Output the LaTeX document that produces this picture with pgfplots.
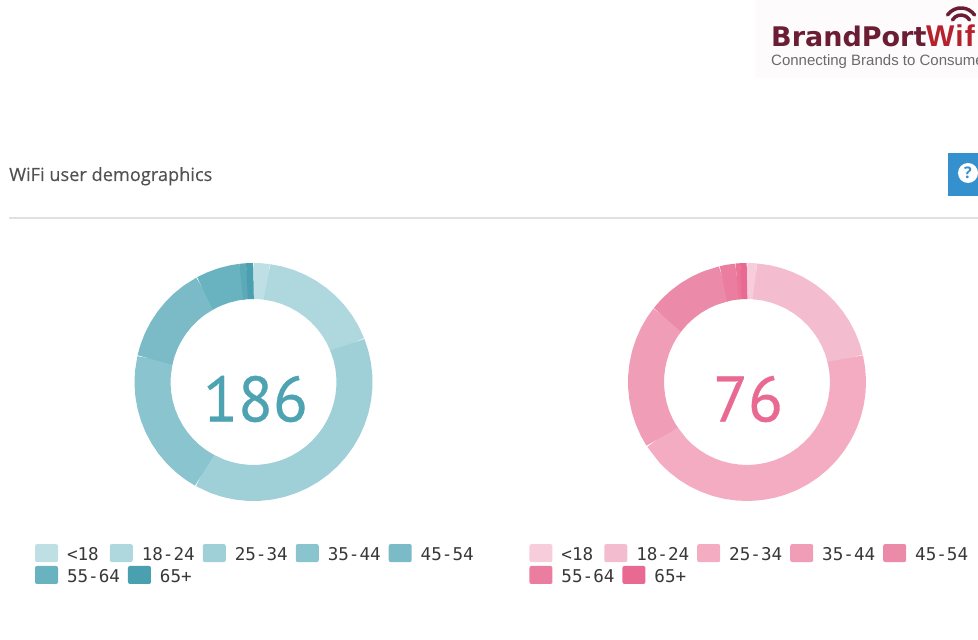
\documentclass[border=0pt]{standalone}
\usepackage{fontspec}
\setmainfont{Open Sans}
\newfontfamily\titlefont[FakeBold=0.25]{Open Sans}
\newfontfamily\legfont{DejaVu Sans Mono}
\newfontfamily\logofont{DejaVu Sans}
\newfontfamily\tagfont{Liberation Sans}
\newfontfamily\wififont[LetterSpace=4]{Liberation Sans}
\newfontfamily\numfont[FakeBold=0.5]{PT Sans}
\usepackage{pgfplots}
\pgfplotsset{compat=1.18}
\usepgfplotslibrary{polar}
\definecolor{tA}{RGB}{190,224,229}
\definecolor{tB}{RGB}{175,215,222}
\definecolor{tC}{RGB}{160,208,215}
\definecolor{tD}{RGB}{138,196,207}
\definecolor{tE}{RGB}{122,187,199}
\definecolor{tF}{RGB}{105,179,192}
\definecolor{tM}{RGB}{92,170,184}
\definecolor{tG}{RGB}{75,160,175}
\definecolor{pA}{RGB}{248,205,219}
\definecolor{pB}{RGB}{244,188,207}
\definecolor{pC}{RGB}{243,172,193}
\definecolor{pD}{RGB}{240,158,184}
\definecolor{pE}{RGB}{236,138,169}
\definecolor{pF}{RGB}{235,125,160}
\definecolor{pM}{RGB}{234,115,152}
\definecolor{pG}{RGB}{232,105,145}
\definecolor{numT}{RGB}{77,163,178}
\definecolor{numP}{RGB}{232,105,145}
\definecolor{maroon}{RGB}{107,29,51}
\definecolor{logored}{RGB}{181,34,45}
\definecolor{helpblue}{RGB}{52,145,205}
\pgfplotsset{
  donut/.style={
    scale only axis, width=238pt, height=238pt,
    anchor=center, hide axis, clip=false,
    xmin=0, xmax=360, ymin=0, ymax=119,
    every axis plot/.append style={line width=36pt, no markers, line join=round},
    legend cell align=left,
    legend image code/.code={
      \fill[##1,draw=none,line width=0pt,rounded corners=2pt] (0pt,-7pt) rectangle (23pt,11pt);
    },
    legend style={draw=none, fill=none, inner sep=0pt, outer sep=0pt, anchor=north west,
      text=black!78, font=\legfont\fontsize{17.6}{18}\selectfont, legend columns=-1,
      /tikz/every even column/.append style={column sep=8pt},
      /tikz/every odd column/.append style={column sep=9pt},
      nodes={inner sep=0pt, outer sep=0pt}},
  }}
\begin{document}
\begin{tikzpicture}[x=1pt,y=1pt]
\clip (0,0) rectangle (978,640);
% header bits
\fill[fill={rgb,255:red,254;green,251;blue,253}] (755,562) rectangle (978,640);
\node[anchor=base west,inner sep=0pt,text=maroon,font=\logofont\bfseries\fontsize{27}{27}\selectfont] at (771,593) {BrandPort};
\node[anchor=base west,inner sep=0pt,text=logored,font=\wififont\bfseries\fontsize{30}{30}\selectfont] at (926,593) {Wifi};
\node[anchor=base west,inner sep=0pt,text=black!58,font=\tagfont\fontsize{15}{15}\selectfont] at (771,574.5) {Connecting Brands to Consumers};
\draw[maroon,line width=3.5pt,line cap=round] (947.5,625) arc[start angle=145,end angle=35,radius=16.5];
\draw[maroon,line width=3.5pt,line cap=round] (952.5,620) arc[start angle=151,end angle=29,radius=9.7];
\node[anchor=base west,inner sep=0pt,text=black!68,font=\titlefont\fontsize{18.2}{18}\selectfont] at (9,459) {WiFi user demographics};
\fill[black!12] (9,420.5) rectangle (978,422.5);
\fill[helpblue] (948,444) rectangle (978,487);
\fill[white] (968,467) circle[radius=10];
\node[text=helpblue,inner sep=0pt,font=\bfseries\fontsize{16}{16}\selectfont] at (968,467) {?};

\begin{polaraxis}[donut, at={(253.5pt,258pt)},
    legend style={at={(-0.418,-0.181)}}]
  \addplot[tA] coordinates {(90,101) (86,101) (81.8,101)};
  \addlegendentry{<18\kern3pt}
  \addplot[tB] coordinates {(82.3,101) (76,101) (70,101) (64,101) (58,101) (52,101) (46,101) (40,101) (34,101) (28,101) (21.2,101)};
  \addlegendentry{18-24}
  \addplot[tC] coordinates {(21.7,101) (15,101) (9,101) (3,101) (-3,101) (-9,101) (-15,101) (-21,101) (-27,101) (-33,101) (-39,101) (-45,101) (-51,101) (-57,101) (-63,101) (-69,101) (-75,101) (-81,101) (-87,101) (-93,101) (-99,101) (-105,101) (-111,101) (-119.5,101)};
  \addlegendentry{25-34}
  \addplot[tD] coordinates {(-119,101) (-125,101) (-131,101) (-137,101) (-143,101) (-149,101) (-155,101) (-161,101) (-167,101) (-173,101) (-179,101) (-185,101) (-193.1,101)};
  \addlegendentry{35-44}
  \addplot[tE] coordinates {(-192.6,101) (-198,101) (-204,101) (-210,101) (-216,101) (-222,101) (-228,101) (-234,101) (-241.8,101)};
  \addlegendentry{45-54}
\end{polaraxis}
\begin{polaraxis}[donut, at={(253.5pt,258pt)},
    legend style={at={(-0.418,-0.273)}}]
  \addplot[tF] coordinates {(-241.3,101) (-247,101) (-253,101) (-259,101) (-263.5,101)};
  \addlegendentry{55-64}
  \addplot[tM, forget plot] coordinates {(-263,101) (-265,101) (-266.6,101)};
  \addplot[tG] coordinates {(-266.3,101) (-268,101) (-270,101)};
  \addlegendentry{65+}
  \node[text=numT,inner sep=0pt,font=\numfont\fontsize{64}{64}\selectfont] at (axis cs:90,0) [yshift=-17pt,xshift=2pt] {186};
\end{polaraxis}

\begin{polaraxis}[donut, at={(747pt,258pt)},
    legend style={at={(-0.414,-0.181)}}]
  \addplot[pA] coordinates {(90,101) (88,101) (85,101)};
  \addlegendentry{<18\kern3pt}
  \addplot[pB] coordinates {(85.5,101) (79,101) (73,101) (67,101) (61,101) (55,101) (49,101) (43,101) (37,101) (31,101) (25,101) (19,101) (12.9,101)};
  \addlegendentry{18-24}
  \addplot[pC] coordinates {(13.4,101) (7,101) (1,101) (-5,101) (-11,101) (-17,101) (-23,101) (-29,101) (-35,101) (-41,101) (-47,101) (-53,101) (-59,101) (-65,101) (-71,101) (-77,101) (-83,101) (-89,101) (-95,101) (-101,101) (-107,101) (-113,101) (-119,101) (-125,101) (-131,101) (-137,101) (-147.7,101)};
  \addlegendentry{25-34}
  \addplot[pD] coordinates {(-147.2,101) (-153,101) (-159,101) (-165,101) (-171,101) (-177,101) (-183,101) (-189,101) (-195,101) (-201,101) (-207,101) (-213,101) (-218.5,101)};
  \addlegendentry{35-44}
  \addplot[pE] coordinates {(-218,101) (-224,101) (-230,101) (-236,101) (-242,101) (-248,101) (-257,101)};
  \addlegendentry{45-54}
\end{polaraxis}
\begin{polaraxis}[donut, at={(747pt,258pt)},
    legend style={at={(-0.414,-0.273)}}]
  \addplot[pF] coordinates {(-256.5,101) (-260,101) (-264.6,101)};
  \addlegendentry{55-64}
  \addplot[pM, forget plot] coordinates {(-264.4,101) (-265.5,101) (-266.9,101)};
  \addplot[pG] coordinates {(-266.6,101) (-268,101) (-270,101)};
  \addlegendentry{65+}
  \node[text=numP,inner sep=0pt,font=\numfont\fontsize{64}{64}\selectfont] at (axis cs:90,0) [yshift=-17pt,xshift=1pt] {76};
\end{polaraxis}
\end{tikzpicture}
\end{document}
